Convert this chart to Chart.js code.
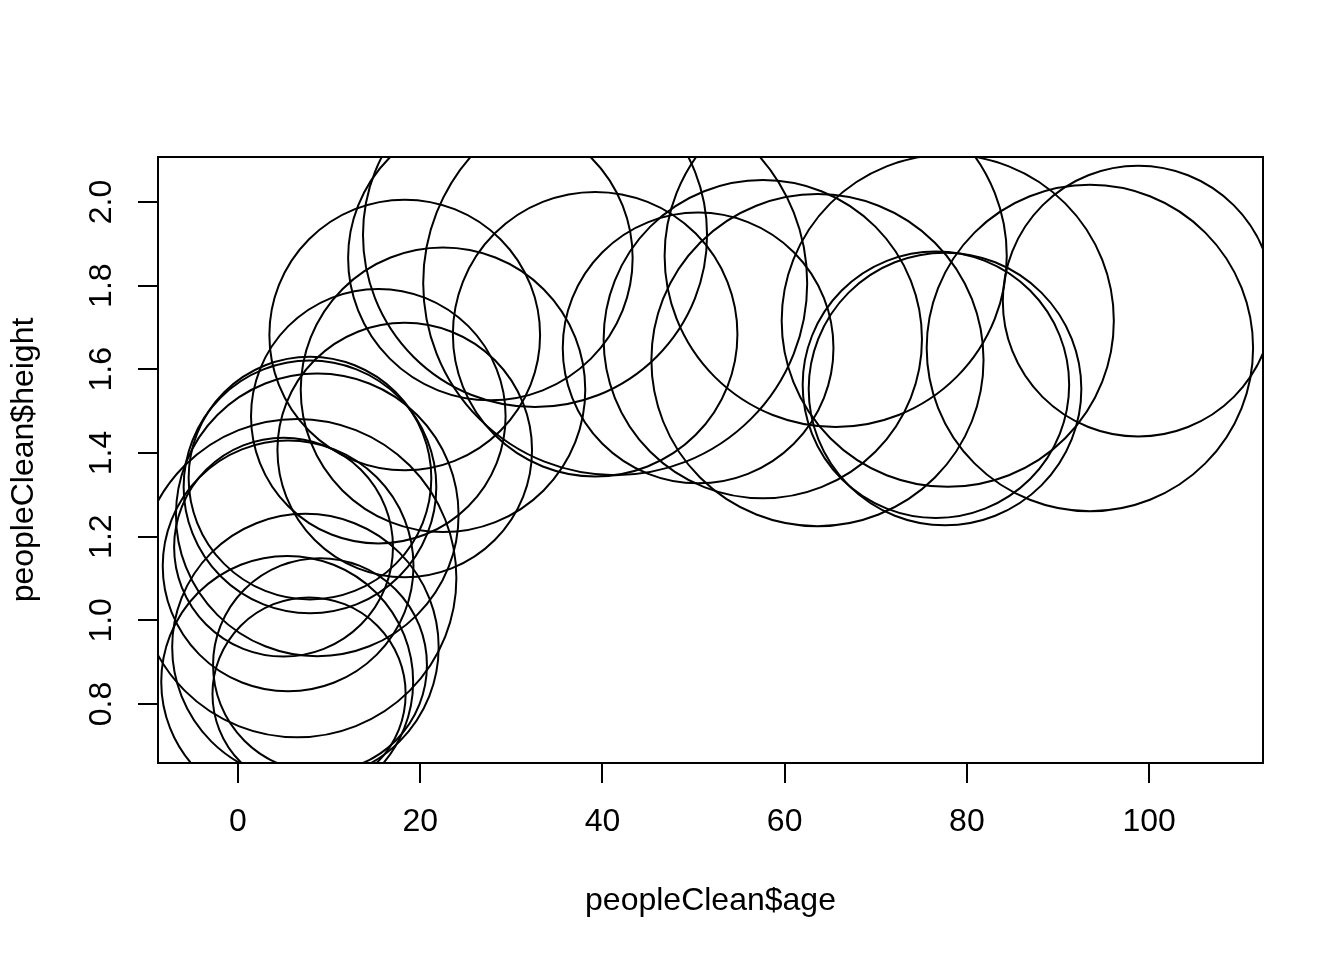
<!DOCTYPE html>
<html>
<head>
<meta charset="utf-8">
<script src="https://cdn.jsdelivr.net/npm/chart.js@4/dist/chart.umd.min.js"></script>
<style>
html, body { margin: 0; padding: 0; background: #ffffff; }
#wrap { width: 1344px; height: 960px; }
</style>
</head>
<body>
<div id="wrap"><canvas id="c" width="1344" height="960"></canvas></div>
<script>
// ---- data ----
const ages = [7.9, 7.9, 8.7, 6.5, 5.5, 5.0, 7.4, 9.0, 5.4, 7.8,
              18.3, 22.5, 15.4, 18.3, 27.7, 32.6,
              39.2, 41.4, 50.5, 57.6, 63.6, 65.6,
              77.9, 76.6, 77.6, 93.5, 98.8];
const heights = [1.340, 1.319, 1.252, 1.101, 1.130, 1.175, 0.936, 0.893, 0.853, 0.824,
                 1.682, 1.551, 1.488, 1.407, 1.866, 1.921,
                 1.684, 1.806, 1.651, 1.672, 1.622, 1.871,
                 1.716, 1.563, 1.553, 1.651, 1.763];
const weights = [63.2, 65.8, 73.6, 82.9, 65.3, 57.0, 69.4, 55.7, 65.6, 50.3,
                 70.5, 74.1, 66.3, 66.3, 74.1, 89.6,
                 74.1, 100.0, 70.5, 82.9, 86.5, 89.1,
                 86.5, 69.4, 71.0, 85.0, 70.5];
const xTicks = [0, 20, 40, 60, 80, 100];
const yTicks = [0.8, 1.0, 1.2, 1.4, 1.6, 1.8, 2.0];
const xRange = [-8.78, 112.5];
const yRange = [0.659, 2.1075];
const xTitle = 'peopleClean$age';
const yTitle = 'peopleClean$height';

// ---- R symbols(circles=...) style: largest circle radius = 1 inch ----
const PX_PER_INCH = 192;
const maxWeight = Math.max(...weights);
const bubbles = ages.map((a, i) => ({ x: a, y: heights[i], r: weights[i] / maxWeight * PX_PER_INCH }));

const FONT = "'Liberation Sans', Arial, Helvetica, sans-serif";
const FS = 32;

const boxPlugin = {
  id: 'rbox',
  afterDraw(chart) {
    const { ctx, chartArea: a } = chart;
    ctx.save();
    ctx.strokeStyle = '#000';
    ctx.lineWidth = 2;
    ctx.strokeRect(a.left, a.top, a.right - a.left, a.bottom - a.top);
    ctx.fillStyle = '#000';
    ctx.font = FS + 'px ' + FONT;
    ctx.textAlign = 'center';
    ctx.textBaseline = 'alphabetic';
    ctx.fillText(xTitle, (a.left + a.right) / 2, 910);
    ctx.translate(33, (a.top + a.bottom) / 2);
    ctx.rotate(-Math.PI / 2);
    ctx.fillText(yTitle, 0, 0);
    ctx.restore();
  }
};

new Chart(document.getElementById('c'), {
  type: 'bubble',
  data: {
    datasets: [{
      data: bubbles,
      backgroundColor: 'rgba(0,0,0,0)',
      borderColor: '#000',
      borderWidth: 2,
      hoverBorderWidth: 2,
      clip: 0
    }]
  },
  plugins: [boxPlugin],
  options: {
    responsive: false,
    devicePixelRatio: 1,
    animation: false,
    events: [],
    layout: { autoPadding: false, padding: { left: 0, right: 81, top: 157, bottom: 0 } },
    plugins: { legend: { display: false }, tooltip: { enabled: false } },
    scales: {
      x: {
        type: 'linear',
        position: 'bottom',
        min: xRange[0],
        max: xRange[1],
        afterBuildTicks: s => { s.ticks = xTicks.map(v => ({ value: v })); },
        afterFit: s => { s.height = 960 - 763; },
        grid: { display: true, drawOnChartArea: false, drawTicks: true, tickLength: 20,
                color: '#000', lineWidth: 2, tickWidth: 2, tickColor: '#000' },
        border: { display: true, color: '#000', width: 2 },
        ticks: { color: '#000', font: { family: FONT, size: FS }, padding: 20,
                 maxRotation: 0, minRotation: 0, autoSkip: false,
                 callback: v => String(v) }
      },
      y: {
        type: 'linear',
        position: 'left',
        min: yRange[0],
        max: yRange[1],
        afterBuildTicks: s => { s.ticks = yTicks.map(v => ({ value: v })); },
        afterFit: s => { s.width = 158; },
        grid: { display: true, drawOnChartArea: false, drawTicks: true, tickLength: 20,
                color: '#000', lineWidth: 2, tickWidth: 2, tickColor: '#000' },
        border: { display: true, color: '#000', width: 2 },
        ticks: { color: '#000', font: { family: FONT, size: FS }, padding: 14,
                 minRotation: 90, maxRotation: 90, crossAlign: 'center', autoSkip: false,
                 callback: v => Number(v).toFixed(1) }
      }
    }
  }
});
</script>
</body>
</html>
